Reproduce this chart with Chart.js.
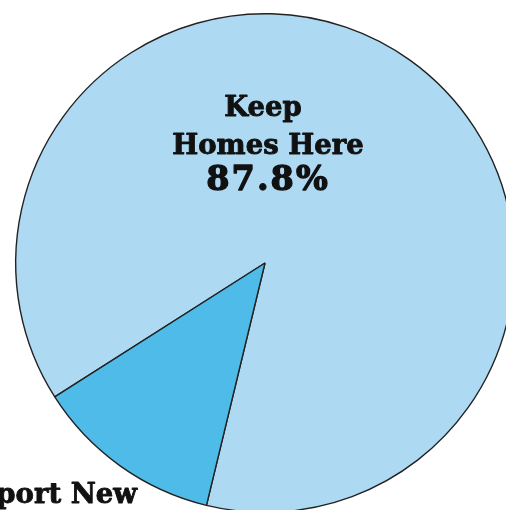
<!DOCTYPE html>
<html>
<head>
<meta charset="utf-8">
<script src="https://cdn.jsdelivr.net/npm/chart.js@4/dist/chart.umd.min.js"></script>
<style>
  html, body { margin: 0; padding: 0; background: #fff; overflow: hidden; }
  #wrap { position: absolute; left: 0; top: 0; width: 530px; height: 530px; }
</style>
</head>
<body>
<div id="wrap"><canvas id="pie" width="530" height="530"></canvas></div>
<script>
// slice data
const labels = ['Keep Homes Here', 'Support New Homes'];
const values = [87.8, 12.2];
const colors = ['#add9f3', '#4fbbe9'];

// text lines shown for each slice
const labelLines = [
  ['Keep', 'Homes Here'],
  ['Support New', 'Homes'],
];
const pctText = values.map(v => v.toFixed(1) + '%');

// heavy text: fill + thin stroke to fake an extra-bold slab face
function heavyText(ctx, text, x, y, size, spacing, weight) {
  ctx.font = `bold ${size}px "DejaVu Serif", serif`;
  ctx.letterSpacing = `${spacing}px`;
  ctx.lineWidth = weight;
  ctx.fillText(text, x, y);
  ctx.strokeText(text, x, y);
}

// ─── Slice labels plugin ──────────────────────────────────────────────────────
const sliceLabels = {
  id: 'sliceLabels',
  afterDraw(chart) {
    const ctx = chart.ctx;
    ctx.save();
    ctx.fillStyle = '#111';
    ctx.strokeStyle = '#111';
    ctx.lineJoin = 'round';
    ctx.textBaseline = 'alphabetic';

    // big slice, centred block
    ctx.textAlign = 'center';
    heavyText(ctx, labelLines[0][0], 263, 116, 27.5, 0, 0.9);
    heavyText(ctx, labelLines[0][1], 268, 154, 27.5, 0, 0.9);
    heavyText(ctx, pctText[0], 268, 190, 33.5, 2, 1.3);

    // small slice, outside bottom left (mostly off screen)
    ctx.textAlign = 'right';
    heavyText(ctx, labelLines[1][0], 137, 503, 27.5, 0, 0.9);
    heavyText(ctx, labelLines[1][1], 137, 541, 27.5, 0, 0.9);
    heavyText(ctx, pctText[1], 137, 577, 33.5, 2, 1.3);
    ctx.restore();
  },
};

new Chart(document.getElementById('pie'), {
  type: 'pie',
  data: {
    labels,
    datasets: [{
      data: values,
      backgroundColor: colors,
      borderColor: '#222',
      borderWidth: 1.4,
    }],
  },
  options: {
    responsive: false,
    animation: false,
    rotation: -122.5,
    layout: { padding: { left: 15, top: 13, right: 15, bottom: 17 } },
    plugins: {
      legend: { display: false },
      tooltip: { enabled: false },
    },
  },
  plugins: [sliceLabels],
});
</script>
</body>
</html>
